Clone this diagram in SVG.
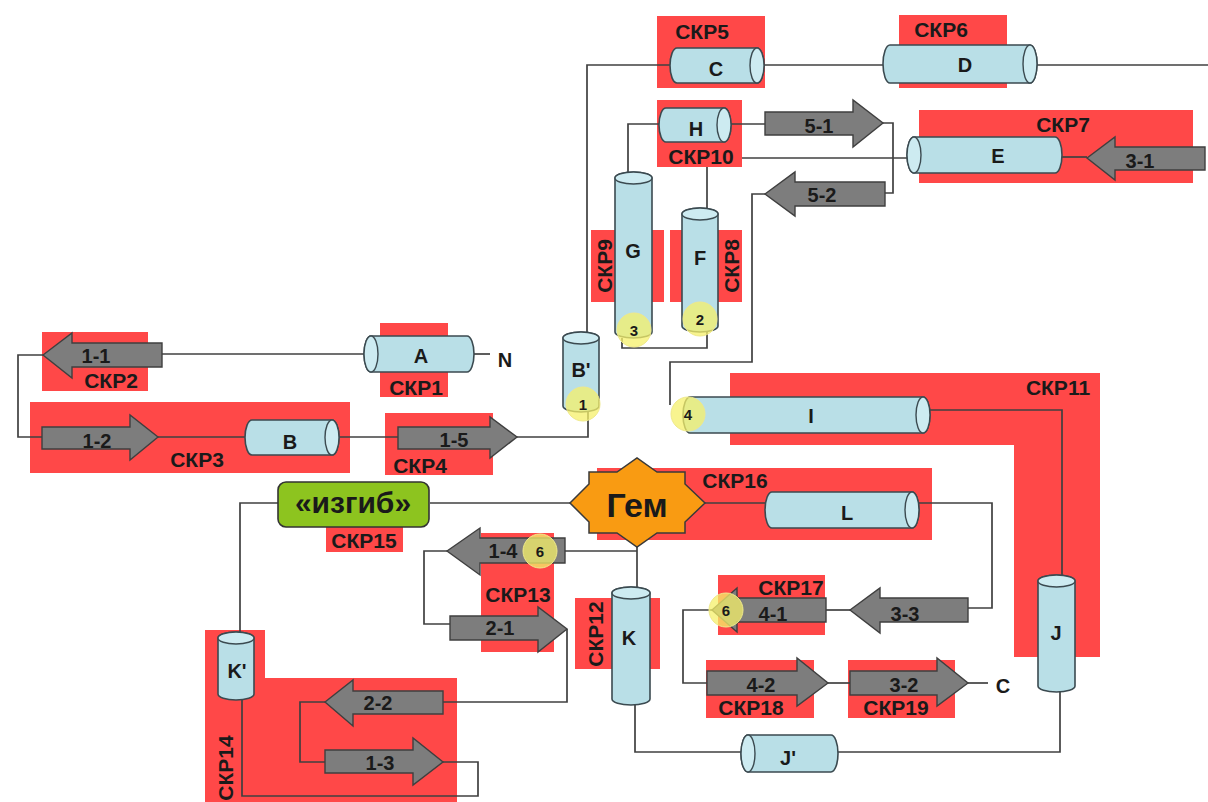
<svg xmlns="http://www.w3.org/2000/svg" width="1208" height="802" viewBox="0 0 1208 802">
<style>
text{font-family:"Liberation Sans",Arial,sans-serif;font-weight:bold;fill:#1a1a1a;text-anchor:middle}
.red{fill:#ff4848}
.lbl{font-size:20px}
.skr{font-size:21px}
.cyl{fill:#b9dfe7;stroke:#3b4a50;stroke-width:1.6}
.cap{fill:#cdebf1;stroke:#3b4a50;stroke-width:1.4}
.arr{fill:#7d7d7d;stroke:#3f3f3f;stroke-width:1.4}
.con path{fill:none;stroke:#404040;stroke-width:1.7}
.mk{fill:#f6f06a;fill-opacity:0.75;stroke:#efe98a;stroke-width:1}
.num{font-size:15px}
</style>

<g id="skr5"><rect class="red" x="657" y="16" width="108" height="72"/><text class="skr" x="702" y="39">СКР5</text></g>
<g id="skr6"><rect class="red" x="899" y="15" width="108" height="73"/><text class="skr" x="941" y="37">СКР6</text></g>
<g id="skr10"><rect class="red" x="657" y="100" width="85" height="67"/><text class="skr" x="701" y="164">СКР10</text></g>
<g id="skr7"><rect class="red" x="919" y="110" width="274" height="73"/><text class="skr" x="1063" y="132">СКР7</text></g>
<g id="skr9"><rect class="red" x="591" y="230" width="73" height="72"/><text class="skr" transform="translate(612,266) rotate(-90)">СКР9</text></g>
<g id="skr8"><rect class="red" x="670" y="230" width="72" height="72"/><text class="skr" transform="translate(739,266) rotate(-90)">СКР8</text></g>
<g id="skr1"><rect class="red" x="380" y="323" width="68" height="74"/><text class="skr" x="416" y="395">СКР1</text></g>
<g id="skr2"><rect class="red" x="42" y="332" width="106" height="59"/><text class="skr" x="111" y="388">СКР2</text></g>
<g id="skr3"><rect class="red" x="30" y="402" width="320" height="71"/><text class="skr" x="197" y="467">СКР3</text></g>
<g id="skr4"><rect class="red" x="385" y="413" width="108" height="62"/><text class="skr" x="420" y="473">СКР4</text></g>
<g id="skr11"><path class="red" d="M730,373 H1100 V657 H1014 V445 H730 Z"/><text class="skr" x="1058" y="395">СКР11</text></g>
<g id="skr16"><rect class="red" x="597" y="468" width="335" height="72"/><text class="skr" x="735" y="488">СКР16</text></g>
<g id="skr15"><rect class="red" x="326" y="527" width="77" height="25"/><text class="skr" x="364" y="548">СКР15</text></g>
<g id="skr13"><rect class="red" x="481" y="533" width="73" height="119"/><text class="skr" x="518" y="602">СКР13</text></g>
<g id="skr12"><rect class="red" x="575" y="598" width="85" height="71"/><text class="skr" transform="translate(603,634) rotate(-90)">СКР12</text></g>
<g id="skr17"><rect class="red" x="718" y="575" width="107" height="60"/><text class="skr" x="791" y="595">СКР17</text></g>
<g id="skr18"><rect class="red" x="706" y="660" width="108" height="58"/><text class="skr" x="751" y="715">СКР18</text></g>
<g id="skr19"><rect class="red" x="848" y="660" width="107" height="58"/><text class="skr" x="896" y="715">СКР19</text></g>
<g id="skr14"><path class="red" d="M205,630 H265 V678 H457 V802 H205 Z"/><text class="skr" transform="translate(233,768) rotate(-90)">СКР14</text></g>

<g id="connectors" class="con">
<path d="M670,65 H587 V332"/>
<path d="M764,65 H883"/>
<path d="M1037,65 H1208"/>
<path d="M659,124 H628 V172"/>
<path d="M731,124 H765"/>
<path d="M883,123 H893 V193 H885"/>
<path d="M742,158 H907"/>
<path d="M1062,157 H1087"/>
<path d="M765,194 H752 V362 H670 V405"/>
<path d="M707,208 V167"/>
<path d="M622,338 V348 H707 V330"/>
<path d="M588,412 V437 H517"/>
<path d="M339,437 H398"/>
<path d="M158,437 H245"/>
<path d="M43,355 H18 V437 H42"/>
<path d="M364,354 H162"/>
<path d="M474,354 H490"/>
<path d="M930,410 H1062 V575"/>
<path d="M1060,692 V752 H838"/>
<path d="M635,705 V752 H741"/>
<path d="M637,545 V587"/>
<path d="M565,551 H637"/>
<path d="M447,551 H424 V624 H450"/>
<path d="M567,629 V702 H443"/>
<path d="M430,503 H570"/>
<path d="M278,503 H240 V632"/>
<path d="M705,503 H765"/>
<path d="M919,503 H992 V608 H968"/>
<path d="M850,610 H826"/>
<path d="M712,610 H683 V683 H707"/>
<path d="M828,683 H850"/>
<path d="M968,683 H988"/>
<path d="M242,700 V796 H478 V762 H443"/>
<path d="M325,702 H300 V762 H325"/>
</g>

<g id="C"><path class="cyl" d="M677,48 H757 A7,17.5 0 0 1 757,83 H677 A7,17.5 0 0 1 677,48 Z"/><ellipse class="cap" cx="757" cy="65.5" rx="7" ry="17.5"/><text class="lbl" x="716" y="76">C</text></g>
<g id="D"><path class="cyl" d="M890,45 H1030 A7,19 0 0 1 1030,83 H890 A7,19 0 0 1 890,45 Z"/><ellipse class="cap" cx="1030" cy="64" rx="7" ry="19"/><text class="lbl" x="965" y="72">D</text></g>
<g id="H"><path class="cyl" d="M666,108 H724 A7,17 0 0 1 724,142 H666 A7,17 0 0 1 666,108 Z"/><ellipse class="cap" cx="724" cy="125" rx="7" ry="17"/><text class="lbl" x="696" y="136">H</text></g>
<g id="E"><path class="cyl" d="M914,137 H1055 A7,18 0 0 1 1055,173 H914 A7,18 0 0 1 914,137 Z"/><ellipse class="cap" cx="914" cy="155" rx="7" ry="18"/><text class="lbl" x="998" y="163">E</text></g>
<g id="G"><path class="cyl" d="M615,178 V332 A18.5,6 0 0 0 652,332 V178 A18.5,6 0 0 0 615,178 Z"/><ellipse class="cap" cx="633.5" cy="178" rx="18.5" ry="6"/><text class="lbl" x="633" y="258">G</text></g>
<g id="F"><path class="cyl" d="M682,214 V326 A18,6 0 0 0 718,326 V214 A18,6 0 0 0 682,214 Z"/><ellipse class="cap" cx="700" cy="214" rx="18" ry="6"/><text class="lbl" x="700" y="265">F</text></g>
<g id="Bp"><path class="cyl" d="M563,338 V406 A18,6 0 0 0 599,406 V338 A18,6 0 0 0 563,338 Z"/><ellipse class="cap" cx="581" cy="338" rx="18" ry="6"/><text class="lbl" x="581" y="377">B'</text></g>
<g id="A"><path class="cyl" d="M371,336 H467 A7,18 0 0 1 467,372 H371 A7,18 0 0 1 371,336 Z"/><ellipse class="cap" cx="371" cy="354" rx="7" ry="18"/><text class="lbl" x="421" y="363">A</text></g>
<g id="B"><path class="cyl" d="M252,420 H332 A7,17.5 0 0 1 332,455 H252 A7,17.5 0 0 1 252,420 Z"/><ellipse class="cap" cx="332" cy="437.5" rx="7" ry="17.5"/><text class="lbl" x="290" y="449">B</text></g>
<g id="I"><path class="cyl" d="M690,397 H923 A7,18 0 0 1 923,433 H690 A7,18 0 0 1 690,397 Z"/><ellipse class="cap" cx="923" cy="415" rx="7" ry="18"/><text class="lbl" x="811" y="423">I</text></g>
<g id="L"><path class="cyl" d="M772,492 H912 A7,18 0 0 1 912,528 H772 A7,18 0 0 1 772,492 Z"/><ellipse class="cap" cx="912" cy="510" rx="7" ry="18"/><text class="lbl" x="847" y="520">L</text></g>
<g id="J"><path class="cyl" d="M1038,581 V686 A18.5,6 0 0 0 1075,686 V581 A18.5,6 0 0 0 1038,581 Z"/><ellipse class="cap" cx="1056.5" cy="581" rx="18.5" ry="6"/><text class="lbl" x="1056" y="640">J</text></g>
<g id="Jp"><path class="cyl" d="M748,735 H831 A7,18.5 0 0 1 831,772 H748 A7,18.5 0 0 1 748,735 Z"/><ellipse class="cap" cx="748" cy="753.5" rx="7" ry="18.5"/><text class="lbl" x="788" y="765">J'</text></g>
<g id="K"><path class="cyl" d="M612,593 V699 A19,6 0 0 0 650,699 V593 A19,6 0 0 0 612,593 Z"/><ellipse class="cap" cx="631" cy="593" rx="19" ry="6"/><text class="lbl" x="629" y="645">K</text></g>
<g id="Kp"><path class="cyl" d="M218,638 V694 A18,6 0 0 0 254,694 V638 A18,6 0 0 0 218,638 Z"/><ellipse class="cap" cx="236" cy="638" rx="18" ry="6"/><text class="lbl" x="237" y="678">K'</text></g>

<g id="a1-1"><path class="arr" d="M43,355 L72,333 V343 H162 V367 H72 V378 Z"/><text class="lbl" x="96" y="363">1-1</text></g>
<g id="a1-2"><path class="arr" d="M42,427 H130 V415 L158,437 L130,460 V449 H42 Z"/><text class="lbl" x="97" y="448">1-2</text></g>
<g id="a1-5"><path class="arr" d="M398,427 H490 V417 L517,437 L490,458 V449 H398 Z"/><text class="lbl" x="454" y="447">1-5</text></g>
<g id="a5-1"><path class="arr" d="M765,112 H853 V100 L883,123 L853,147 V135 H765 Z"/><text class="lbl" x="819" y="133">5-1</text></g>
<g id="a5-2"><path class="arr" d="M765,194 L795,172 V182 H885 V206 H795 V216 Z"/><text class="lbl" x="822" y="202">5-2</text></g>
<g id="a3-1"><path class="arr" d="M1087,158 L1115,137 V147 H1205 V170 H1115 V180 Z"/><text class="lbl" x="1140" y="168">3-1</text></g>
<g id="a1-4"><path class="arr" d="M447,551 L480,528 V538 H565 V563 H480 V575 Z"/><text class="lbl" x="503" y="558">1-4</text></g>
<g id="a2-1"><path class="arr" d="M450,616 H538 V607 L567,629 L538,652 V640 H450 Z"/><text class="lbl" x="500" y="635">2-1</text></g>
<g id="a2-2"><path class="arr" d="M325,702 L353,680 V691 H443 V714 H353 V726 Z"/><text class="lbl" x="378" y="710">2-2</text></g>
<g id="a1-3"><path class="arr" d="M325,750 H413 V738 L443,762 L413,785 V773 H325 Z"/><text class="lbl" x="380" y="770">1-3</text></g>
<g id="a3-3"><path class="arr" d="M850,610 L880,588 V598 H968 V622 H880 V633 Z"/><text class="lbl" x="905" y="621">3-3</text></g>
<g id="a4-1"><path class="arr" d="M712,610 L737,588 V598 H826 V622 H737 V632 Z"/><text class="lbl" x="773" y="621">4-1</text></g>
<g id="a4-2"><path class="arr" d="M707,671 H797 V658 L828,683 L797,706 V695 H707 Z"/><text class="lbl" x="761" y="692">4-2</text></g>
<g id="a3-2"><path class="arr" d="M850,671 H937 V658 L968,683 L937,706 V695 H850 Z"/><text class="lbl" x="904" y="692">3-2</text></g>

<g id="gem"><path fill="#f99b12" stroke="#3a3a3a" stroke-width="1.5" d="M705,503 L685,522 L685,533 L657,533 L637,547 L617,533 L589,533 L589,522 L570,503 L589,484 L589,472 L617,472 L637,458 L657,472 L685,472 L685,484 Z"/><text x="637" y="517" style="font-size:34px">Гем</text></g>
<g id="izgib"><rect x="278" y="482" width="151" height="45" rx="8" fill="#8dc41f" stroke="#333" stroke-width="1.6"/><text x="353" y="513" style="font-size:30px">«изгиб»</text></g>

<g id="N"><text class="lbl" x="505" y="367">N</text></g>
<g id="Cend"><text class="lbl" x="1003" y="693">C</text></g>

<g id="m1"><circle class="mk" cx="583" cy="404" r="17"/><text class="num" x="583" y="410">1</text></g>
<g id="m2"><circle class="mk" cx="700" cy="319" r="17"/><text class="num" x="700" y="325">2</text></g>
<g id="m3"><circle class="mk" cx="634" cy="330" r="17"/><text class="num" x="634" y="336">3</text></g>
<g id="m4"><circle class="mk" cx="688" cy="414" r="17"/><text class="num" x="688" y="420">4</text></g>
<g id="m6a"><circle class="mk" cx="540" cy="551" r="17"/><text class="num" x="540" y="557">6</text></g>
<g id="m6b"><circle class="mk" cx="726" cy="610" r="17"/><text class="num" x="726" y="616">6</text></g>
</svg>
